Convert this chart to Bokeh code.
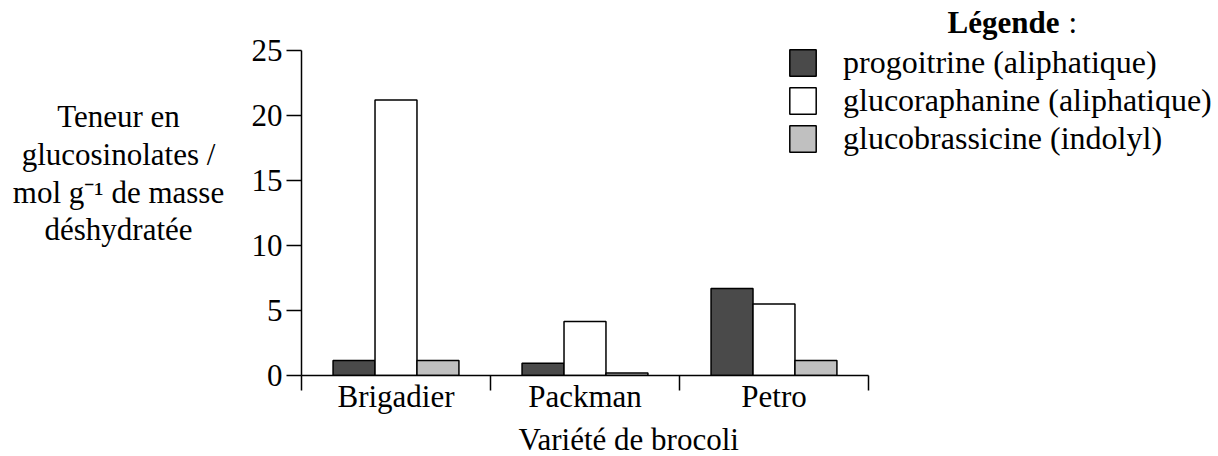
from bokeh.plotting import figure
from bokeh.layouts import row, column
from bokeh.models import Range1d, FixedTicker, Label, Legend, LegendItem
from bokeh.embed import file_html
from bokeh.resources import INLINE

# ---- data ----
varieties = ["Brigadier", "Packman", "Petro"]
series_names = ["progoitrine (aliphatique)", "glucoraphanine (aliphatique)",
                "glucobrassicine (indolyl)"]
progoitrine = [1.15, 0.95, 6.7]
glucoraphanine = [21.2, 4.15, 5.5]
glucobrassicine = [1.15, 0.2, 1.15]
y_ticks = [0, 5, 10, 15, 20, 25]
y_label_lines = ["Teneur en", "glucosinolates /", "mol g\u207b\u00b9 de masse", "déshydratée"]
x_title = "Variété de brocoli"
legend_title = "Légende"

FONT = "Liberation Serif"
FS = "31px"
colors = ["#4a4a4a", "#ffffff", "#c0c0c0"]

# ---- left panel: y-axis title ----
left = figure(width=240, height=456, x_range=Range1d(0, 240), y_range=Range1d(456, 0),
              output_backend="svg", toolbar_location=None,
              x_axis_type=None, y_axis_type=None, min_border=0)
left.grid.visible = False
left.outline_line_color = None
for txt, yy in zip(y_label_lines, [116, 154, 192, 229]):
    left.add_layout(Label(x=118, y=yy, text=txt, text_align="center",
                          text_baseline="alphabetic", text_font=FONT,
                          text_font_size=FS, text_color="black"))

# ---- main chart ----
n = len(varieties)
p = figure(width=978, height=420, x_range=Range1d(0, 4.852), y_range=Range1d(0, 28.846),
           output_backend="svg", toolbar_location=None,
           min_border_left=61, min_border_right=0, min_border_top=0, min_border_bottom=45)
p.grid.visible = False
p.outline_line_color = None

bw = 0.222
offsets = [-bw, 0.0, bw]
renderers = []
for vals, off, col in zip([progoitrine, glucoraphanine, glucobrassicine], offsets, colors):
    xs = [i + 0.5 + off for i in range(n)]
    r = p.vbar(x=xs, top=vals, width=bw, bottom=0, fill_color=col,
               line_color="black", line_width=1.5)
    renderers.append(r)

p.xaxis.bounds = (0, n)
p.xaxis.ticker = FixedTicker(ticks=[i + 0.5 for i in range(n)],
                             minor_ticks=list(range(n + 1)))
p.xaxis.major_label_overrides = {i + 0.5: v for i, v in enumerate(varieties)}
p.xaxis.major_tick_out = 0
p.xaxis.major_tick_in = 0
p.xaxis.minor_tick_out = 15
p.xaxis.minor_tick_in = 0
p.xaxis.minor_tick_line_width = 1.5
p.xaxis.minor_tick_line_color = "black"
p.xaxis.major_label_standoff = -12

p.yaxis.bounds = (0, 25)
p.yaxis.ticker = FixedTicker(ticks=y_ticks)
p.yaxis.major_tick_out = 15
p.yaxis.major_tick_in = 0
p.yaxis.minor_tick_line_color = None
p.yaxis.major_label_standoff = 4
p.yaxis.major_tick_line_width = 1.5

for ax in (p.xaxis, p.yaxis):
    ax.axis_line_width = 1.5
    ax.axis_line_color = "black"
    ax.major_tick_line_color = "black"
    ax.major_label_text_font = FONT
    ax.major_label_text_font_size = FS
    ax.major_label_text_color = "black"

# legend heading (frame-relative screen units)
p.add_layout(Label(x=646, y=353, x_units="screen", y_units="screen", text=legend_title,
                   text_align="left", text_baseline="alphabetic",
                   text_font=FONT, text_font_size=FS, text_font_style="bold",
                   text_color="black"))
p.add_layout(Label(x=767, y=353, x_units="screen", y_units="screen", text=":",
                   text_align="left", text_baseline="alphabetic",
                   text_font=FONT, text_font_size=FS, text_color="black"))

legend = Legend(items=[LegendItem(label=nm, renderers=[r]) for nm, r in zip(series_names, renderers)],
                location=(485, 218), glyph_width=33, glyph_height=33, label_height=33,
                label_standoff=24, spacing=1, padding=0, margin=0,
                border_line_color=None, background_fill_alpha=0,
                label_text_font=FONT, label_text_font_size="32px", label_text_color="black")
p.add_layout(legend)

# ---- bottom strip: x-axis title ----
bottom = figure(width=978, height=36, x_range=Range1d(240, 1218), y_range=Range1d(456, 420),
                output_backend="svg", toolbar_location=None,
                x_axis_type=None, y_axis_type=None, min_border=0)
bottom.grid.visible = False
bottom.outline_line_color = None
bottom.add_layout(Label(x=589, y=439, text=x_title, text_align="center",
                        text_baseline="alphabetic", text_font=FONT,
                        text_font_size=FS, text_color="black"))

layout = row(left, column(p, bottom))
open("out.html", "w").write(file_html(layout, INLINE))
